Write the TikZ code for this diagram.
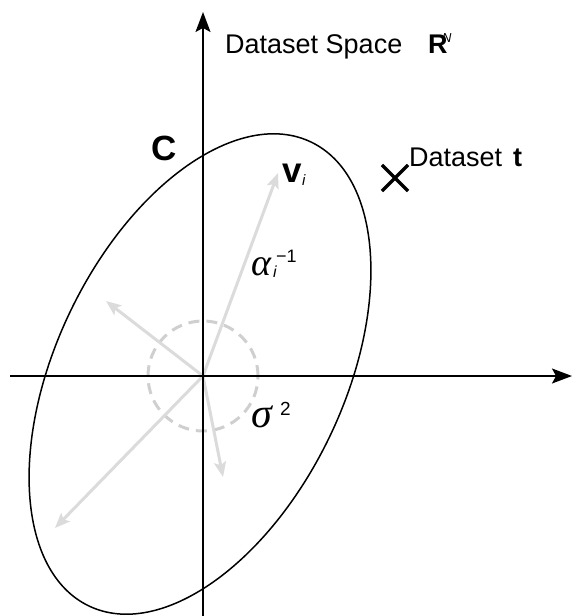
\documentclass[tikz,border=0pt]{standalone}
\usepackage{fontspec}
\setmainfont{Liberation Sans}
\newfontfamily\greekfont{Liberation Serif}
\usetikzlibrary{arrows.meta,shapes.misc}
\begin{document}
\begin{tikzpicture}[x=1pt,y=-1pt,
  axis/.style={line width=1.6pt,-{Stealth[length=20pt,width=15pt,inset=4pt]}},
  garrow/.style={draw=gray!28,line width=3pt,-{Stealth[length=15pt,width=12pt,inset=3pt]}},
  lbl/.style={inner sep=0pt,anchor=base west}]
\useasboundingbox (0,0) rectangle (572,616);
\coordinate (O) at (203,376);
\coordinate (E) at (200,374);
\coordinate (ybot) at (203,616);
\coordinate (ytop) at (203,12);
\coordinate (xl) at (10,376);
\coordinate (xr) at (572,376);
\coordinate (vtip) at (278,173);
\coordinate (ultip) at (106,301);
\coordinate (lltip) at (55,528);
\coordinate (dtip) at (223,477);
% dashed noise circle
\draw[gray!38,line width=3pt,dash pattern=on 11pt off 7pt] (O) circle[radius=55pt];
% gray eigen-vectors
\draw[garrow] (O) -- (vtip);
\draw[garrow] (O) -- (ultip);
\draw[garrow] (O) -- (lltip);
\draw[garrow] (O) -- (dtip);
% axes
\draw[axis] (ybot) -- (ytop);
\draw[axis] (xl) -- (xr);
% ellipse C
\draw[line width=1.5pt,rotate around={64.4:(E)}] (E) ellipse[x radius=257.2pt,y radius=144pt];
% labels
\node[lbl,font=\fontsize{27}{27}\selectfont] (space) at (225,53) {Dataset Space};
\node[lbl,font=\fontsize{27}{27}\selectfont\bfseries] (R) at (428,53) {R};
\node[lbl,font=\fontsize{13}{13}\selectfont\itshape] (N) at (442,42) {N};
\node[lbl,font=\fontsize{35}{35}\selectfont\bfseries] (C) at (151,160) {C};
\node[lbl,font=\fontsize{35}{35}\selectfont\bfseries] (v) at (282,182) {v};
\node[lbl,font=\fontsize{15}{15}\selectfont\itshape] (vi) at (302,185) {i};
\node[lbl,font=\fontsize{38}{38}\selectfont\greekfont\itshape] (alpha) at (251,275) {α};
\node[lbl,font=\fontsize{16}{16}\selectfont\itshape] (ai) at (273,277) {i};
\node[lbl,font=\fontsize{18}{18}\selectfont] (am1) at (276,262) {−1};
\node[lbl,font=\fontsize{42}{42}\selectfont\greekfont\itshape] (sigma) at (251,427) {σ};
\node[lbl,font=\fontsize{19}{19}\selectfont] (s2) at (280,415) {2};
\node[draw,cross out,line width=3.2pt,minimum size=23pt,inner sep=0pt] (t) at (395,178) {};
\node[lbl,font=\fontsize{27}{27}\selectfont] (dset) at (409,166) {Dataset};
\node[lbl,font=\fontsize{27}{27}\selectfont\bfseries] (tt) at (513,166) {t};
\end{tikzpicture}
\end{document}
